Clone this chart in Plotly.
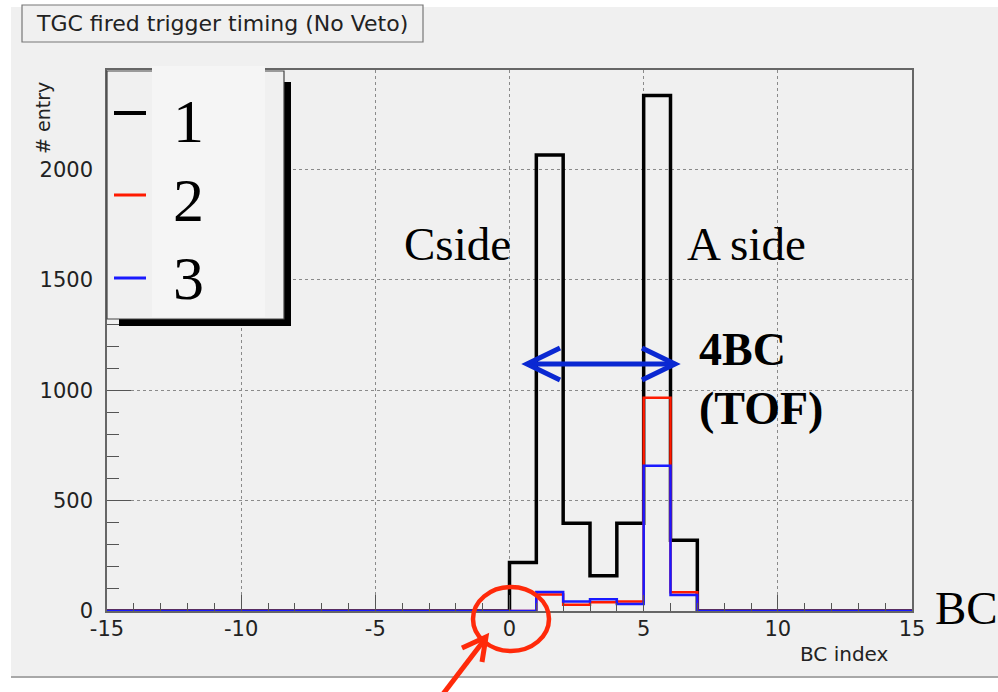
import plotly.graph_objects as go

# ---- data ----
bin_edges = [-15, -14, -13, -12, -11, -10, -9, -8, -7, -6, -5, -4, -3, -2, -1,
             0, 1, 2, 3, 4, 5, 6, 7, 8, 9, 10, 11, 12, 13, 14, 15]
counts_1 = [0, 0, 0, 0, 0, 0, 0, 0, 0, 0, 0, 0, 0, 0, 0,
            220, 2066, 397, 160, 397, 2335, 320, 0, 0, 0, 0, 0, 0, 0, 0]
counts_2 = [0, 0, 0, 0, 0, 0, 0, 0, 0, 0, 0, 0, 0, 0, 0,
            0, 75, 28, 40, 43, 966, 85, 0, 0, 0, 0, 0, 0, 0, 0]
counts_3 = [0, 0, 0, 0, 0, 0, 0, 0, 0, 0, 0, 0, 0, 0, 0,
            0, 86, 43, 53, 32, 658, 73, 0, 0, 0, 0, 0, 0, 0, 0]
series_names = ["1", "2", "3"]
series_colors = ["#000000", "#ff1a00", "#1a1aff"]
x_ticks = [-15, -10, -5, 0, 5, 10, 15]
x_ticktext = ["-15", "-10", "-5", "0", "5", "10", "15"]
y_ticks = [0, 500, 1000, 1500, 2000]
y_ticktext = ["0", "500", "1000", "1500", "2000"]

# ---- geometry ----
W, H = 998, 692
L, R, T, B = 107, 86, 70, 81
PW, PH = W - L - R, H - T - B


def px(x):
    return (x - L) / PW


def py(y):
    return (H - B - y) / PH


fig = go.Figure()
widths = [3.5, 2.5, 2.5]
for name, vals, col, lw in zip(series_names, [counts_1, counts_2, counts_3], series_colors, widths):
    fig.add_trace(go.Scatter(x=bin_edges, y=vals + [vals[-1]], mode="lines",
                             line=dict(color=col, width=lw, shape="hv"),
                             name=name, showlegend=False, hoverinfo="skip"))

shapes = []
# gray canvas
shapes.append(dict(type="rect", xref="paper", yref="paper", layer="below",
                   x0=px(11), x1=px(998), y0=py(677), y1=py(7),
                   fillcolor="#f0f0f0", line=dict(width=0)))
shapes.append(dict(type="line", xref="paper", yref="paper", layer="below",
                   x0=px(11), x1=px(998), y0=py(677), y1=py(677),
                   line=dict(color="#a8a8a8", width=2)))
# title box
shapes.append(dict(type="rect", xref="paper", yref="paper",
                   x0=px(22), x1=px(423), y0=py(42), y1=py(5),
                   fillcolor="#f0f0f0", line=dict(color="#777777", width=1.2)))
# legend shadow
shapes.append(dict(type="rect", xref="paper", yref="paper",
                   x0=px(284), x1=px(291), y0=py(326), y1=py(82),
                   fillcolor="#000000", line=dict(width=0)))
shapes.append(dict(type="rect", xref="paper", yref="paper",
                   x0=px(119), x1=px(291), y0=py(326), y1=py(319),
                   fillcolor="#000000", line=dict(width=0)))
# legend box
shapes.append(dict(type="rect", xref="paper", yref="paper",
                   x0=px(107), x1=px(284), y0=py(319), y1=py(71),
                   fillcolor="#f0f0f0", line=dict(color="#444444", width=1.2)))
# lighter label panel
shapes.append(dict(type="rect", xref="paper", yref="paper",
                   x0=px(152), x1=px(265), y0=py(317), y1=py(66),
                   fillcolor="#f5f5f5", line=dict(width=0)))
legend_y = [113, 195, 278]
for yy, col, lw in zip(legend_y, series_colors, [4, 3, 3]):
    shapes.append(dict(type="line", xref="paper", yref="paper",
                       x0=px(114), x1=px(146), y0=py(yy), y1=py(yy),
                       line=dict(color=col, width=lw)))

# blue double arrow
blue = "#0a28d2"
shapes.append(dict(type="line", xref="paper", yref="paper",
                   x0=px(529), x1=px(673), y0=py(364), y1=py(364),
                   line=dict(color=blue, width=5)))
for tip, arm in [(527, 560), (675, 642)]:
    shapes.append(dict(type="path", xref="paper", yref="paper",
                       path=f"M {px(arm)},{py(348)} L {px(tip)},{py(364)} L {px(arm)},{py(380)}",
                       line=dict(color=blue, width=5)))
# red ellipse
redm = "#ff2a0a"
shapes.append(dict(type="circle", xref="paper", yref="paper",
                   x0=px(473), x1=px(549), y0=py(651), y1=py(587),
                   line=dict(color=redm, width=4.5)))
# red arrow
shapes.append(dict(type="line", xref="paper", yref="paper",
                   x0=px(443), x1=px(485), y0=py(694), y1=py(639),
                   line=dict(color=redm, width=5)))
shapes.append(dict(type="path", xref="paper", yref="paper",
                   path=f"M {px(462)},{py(648)} L {px(486)},{py(637)} L {px(482)},{py(662)}",
                   line=dict(color=redm, width=5)))

ann = []
sans = "DejaVu Sans"
serif = "Liberation Serif"


def add_text(x, y, text, family, size, xanchor="center", yanchor="middle", angle=0, color="#000000"):
    ann.append(dict(x=px(x), y=py(y), xref="paper", yref="paper", showarrow=False,
                    text=text, xanchor=xanchor, yanchor=yanchor, textangle=angle,
                    font=dict(family=family, size=size, color=color)))


add_text(222, 23.5, "TGC fired trigger timing (No Veto)", sans, 22, color="#222222")
add_text(43, 80, "# entry", sans, 19, yanchor="top", angle=-90, color="#222222")
add_text(891, 654, "BC index", sans, 20, xanchor="right", color="#222222")
for lab, yy in zip(series_names, [121, 200, 278]):
    add_text(188, yy, lab, serif, 62)
add_text(402, 244, "Cside", serif, 47, xanchor="left")
add_text(685, 244, "A side", serif, 47, xanchor="left")
add_text(697, 349, "<b>4BC</b>", serif, 46, xanchor="left")
add_text(697, 408, "<b>(TOF)</b>", serif, 46, xanchor="left")
add_text(933, 608, "BC", serif, 47, xanchor="left")

axis_common = dict(showline=True, mirror=True, linecolor="#666666", linewidth=1.5,
                   ticks="inside", tickcolor="#555555", showgrid=True,
                   gridcolor="#8a8a8a", griddash="dot", gridwidth=1, zeroline=False,
                   tickfont=dict(family=sans, size=21, color="#222222"))

fig.update_layout(
    width=W, height=H, autosize=False,
    margin=dict(l=L, r=R, t=T, b=B),
    paper_bgcolor="#ffffff", plot_bgcolor="rgba(0,0,0,0)",
    shapes=shapes, annotations=ann, showlegend=False,
    xaxis=dict(range=[-15, 15], tickvals=x_ticks, ticktext=x_ticktext, ticklen=16, tickwidth=1,
               minor=dict(dtick=1, ticks="inside", ticklen=8, tickcolor="#555555", showgrid=False),
               ticklabelstandoff=-2, **axis_common),
    yaxis=dict(range=[0, 2451], tickvals=y_ticks, ticktext=y_ticktext, ticklen=24, tickwidth=1,
               minor=dict(dtick=100, ticks="inside", ticklen=12, tickcolor="#555555", showgrid=False),
               ticklabelstandoff=8, **axis_common),
)

fig.write_html("out.html")
